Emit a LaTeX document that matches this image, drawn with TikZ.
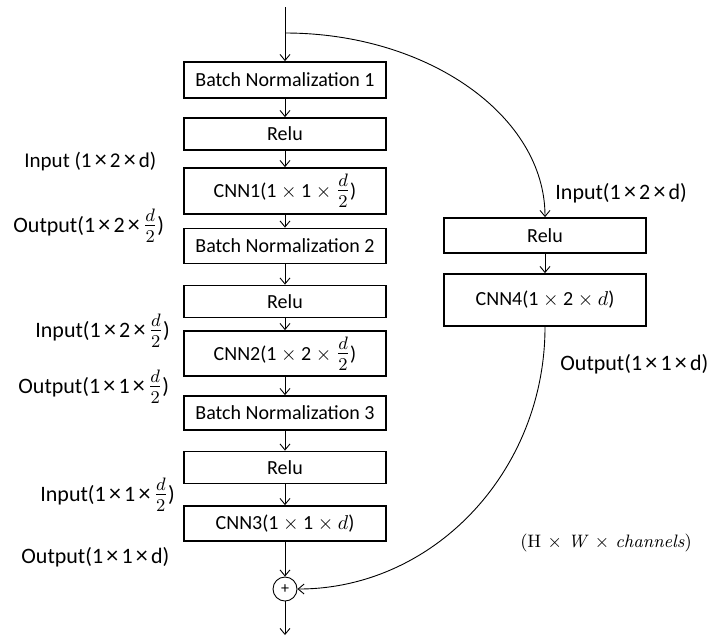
\documentclass[tikz,border=0pt]{standalone}
\usepackage{fontspec}
\setmainfont{Carlito}
\newfontfamily\lmr{Latin Modern Roman}
\usetikzlibrary{arrows.meta}
% wide multiplication sign and enlarged fraction used in the annotations
\newcommand\xx{\kern1.6pt{\fontsize{12}{12}\selectfont ×}\kern1.6pt}
\newcommand\half{{\fontsize{13.5}{14}\selectfont$\frac{d}{2}$}}
\begin{document}
\begin{tikzpicture}[x=0.5pt,y=-0.5pt,
  every node/.style={font=\fontsize{10}{12}\selectfont},
  block/.style={draw, line width=0.9pt, minimum width=101pt, inner sep=0pt, align=center},
  lbl/.style={inner sep=0pt, anchor=west, font=\fontsize{11}{13}\selectfont},
  arr/.style={-{Straight Barb[length=3pt,width=5pt]}, line width=0.45pt}]
\useasboundingbox (0,0) rectangle (716,639);

% main column
\node[block, minimum height=18pt] (bn1) at (285,80) {Batch Normalization 1};
\node[block, minimum height=16pt] (relu1) at (285,134) {Relu};
\node[block, minimum height=23pt] (cnn1) at (285,191) {CNN1(1 $\times$ 1 $\times$ \half)};
\node[block, minimum height=17.5pt] (bn2) at (285,246) {Batch Normalization 2};
\node[block, minimum height=16pt] (relu2) at (285,301.5) {Relu};
\node[block, minimum height=22.5pt] (cnn2) at (285,353.5) {CNN2(1 $\times$ 2 $\times$ \half)};
\node[block, minimum height=17pt] (bn3) at (285,413) {Batch Normalization 3};
\node[block, minimum height=16pt] (relu3) at (285,467.5) {Relu};
\node[block, minimum height=17.5pt] (cnn3) at (285,523.5) {CNN3(1 $\times$ 1 $\times$ $d$)};
\node[circle, draw, line width=0.45pt, minimum size=12pt, inner sep=0pt, font=\fontsize{8}{9}\selectfont] (plus) at (285,589) {+};

% shortcut branch
\node[block, minimum height=17.5pt] (relu4) at (545,235.5) {Relu};
\node[block, minimum height=26pt] (cnn4) at (545,300) {CNN4(1 $\times$ 2 $\times$ $d$)};

\coordinate (in) at (285,7);
\coordinate (split) at (285,33);
\coordinate (out) at (285,635);

% connectors
\draw[arr] (in) -- (bn1);
\draw[arr] (bn1) -- (relu1);
\draw[arr] (relu1) -- (cnn1);
\draw[arr] (cnn1) -- (bn2);
\draw[arr] (bn2) -- (relu2);
\draw[arr] (relu2) -- (cnn2);
\draw[arr] (cnn2) -- (bn3);
\draw[arr] (bn3) -- (relu3);
\draw[arr] (relu3) -- (cnn3);
\draw[arr] (cnn3) -- (plus);
\draw[arr] (plus) -- (out);
\draw[arr] (split) .. controls (428,33) and (545,116) .. (relu4.north);
\draw[arr] (relu4) -- (cnn4);
\draw[arr] (cnn4.south) .. controls (545,471) and (434,589) .. (plus.east);

% shape annotations
\node[lbl, font=\fontsize{10.5}{12.5}\selectfont] (l1) at (24,162) {Input (1\xx 2\xx d)};
\node[lbl] (l2) at (13,226) {Output(1\xx 2\xx\half)};
\node[lbl] (l3) at (35,331) {Input(1\xx 2\xx\half)};
\node[lbl] (l4) at (18,387) {Output(1\xx 1\xx\half)};
\node[lbl] (l5) at (40,495) {Input(1\xx 1\xx\half)};
\node[lbl] (l6) at (21,557) {Output(1\xx 1\xx d)};
\node[lbl] (r1) at (555,193) {Input(1\xx 2\xx d)};
\node[lbl] (r2) at (560,364) {Output(1\xx 1\xx d)};
\node[inner sep=0pt, font=\lmr\fontsize{9}{11}\selectfont] (legend) at (606,543) {(H $\times$ \textit{W} $\times$ \textit{channels})};
\end{tikzpicture}
\end{document}
